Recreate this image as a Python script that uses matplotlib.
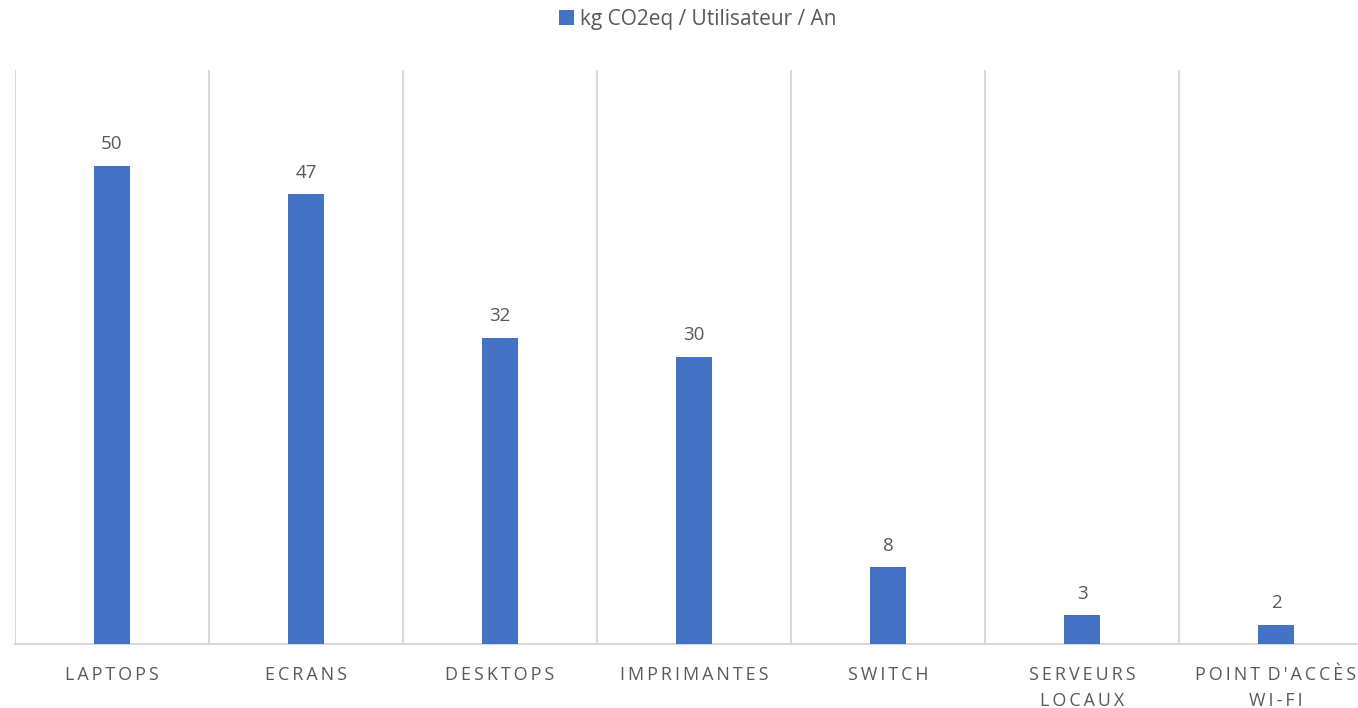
import matplotlib
matplotlib.use("Agg")
import matplotlib.pyplot as plt
from matplotlib.patches import Patch

categories = ["LAPTOPS", "ECRANS", "DESKTOPS", "IMPRIMANTES", "SWITCH",
              "SERVEURS\nLOCAUX", "POINT D'ACCÈS\nWI-FI"]
values = [50, 47, 32, 30, 8, 3, 2]
series_name = "kg CO2eq / Utilisateur / An"

BAR = "#4472C4"
GRID = "#D9D9D9"
TXT = "#595959"
FONT = ["Open Sans", "DejaVu Sans"]

def spaced(s):
    sp = "\u2009"
    lines = []
    for line in s.split("\n"):
        words = line.split(" ")
        lines.append((" " + sp).join(sp.join(list(w)) for w in words))
    return "\n".join(lines)

W, H = 1358, 708
fig = plt.figure(figsize=(W / 100, H / 100), dpi=100)
left = 15 / W
right = (15 + 7 * 194) / W
bottom = 1 - 644 / H
top = 1 - 70 / H
ax = fig.add_axes([left, bottom, right - left, top - bottom])

x = list(range(len(categories)))
bars = ax.bar(x, values, width=0.185, color=BAR, zorder=3)
ax.set_xlim(-0.5, len(categories) - 0.5)
ax.set_ylim(0, 60)

for i in range(len(categories) + 1):
    ax.axvline(i - 0.5, color=GRID, lw=1.5, zorder=1)

for b, v in zip(bars, values):
    ax.annotate(str(v), (b.get_x() + b.get_width() / 2, v), xytext=(0, 9),
                textcoords="offset points", ha="center", va="bottom",
                fontsize=13.5, color=TXT, family=FONT)

for s in ["top", "right", "left"]:
    ax.spines[s].set_visible(False)
ax.spines["bottom"].set_color(GRID)
ax.spines["bottom"].set_linewidth(1.5)
ax.set_yticks([])
ax.set_xticks(x)
ax.set_xticklabels([spaced(c) for c in categories], fontsize=12.9, color=TXT,
                   family=FONT, linespacing=1.58)
ax.tick_params(axis="x", length=0, pad=15.5)

fig.legend(handles=[Patch(facecolor=BAR, label=series_name)], loc="center",
           bbox_to_anchor=(0.5 + 19 / W, 1 - 19 / H), frameon=False,
           handlelength=0.7, handleheight=0.7, handletextpad=0.3,
           prop={"family": FONT, "size": 15}, labelcolor=TXT)

fig.savefig("out.png", dpi=100)
